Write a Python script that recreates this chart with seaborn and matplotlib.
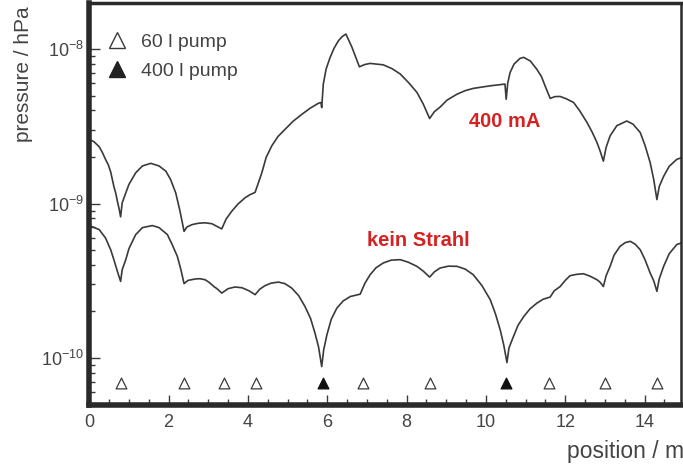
import numpy as np
import pandas as pd
import matplotlib
matplotlib.use("Agg")
import matplotlib.pyplot as plt
from matplotlib.lines import Line2D
from matplotlib.ticker import MultipleLocator, LogLocator, NullFormatter
import seaborn as sns

# ---- data ----
pos_400mA = [0.0, 0.12, 0.25, 0.33, 0.41, 0.48, 0.54, 0.62, 0.67, 0.71, 0.75, 0.79, 0.83, 0.92, 1.0, 1.17, 1.34,
             1.55, 1.76, 1.93, 2.05, 2.18, 2.28, 2.39, 2.46, 2.59, 2.75, 2.92, 3.09, 3.34, 3.45, 3.59, 3.75, 3.93,
             4.05, 4.18, 4.35, 4.46, 4.60, 4.76, 4.94, 5.14, 5.36, 5.57, 5.78, 5.84, 5.86, 5.90, 5.97, 6.07, 6.17,
             6.28, 6.37, 6.47, 6.62, 6.81, 6.94, 7.08, 7.41, 7.63, 7.84, 8.05, 8.26, 8.42, 8.58, 8.70, 8.84, 9.02,
             9.27, 9.48, 9.68, 10.11, 10.48, 10.51, 10.55, 10.61, 10.71, 10.86, 10.95, 11.12, 11.28, 11.40, 11.49,
             11.62, 11.74, 11.87, 12.02, 12.21, 12.37, 12.55, 12.68, 12.80, 12.88, 12.96, 13.03, 13.13, 13.30,
             13.55, 13.71, 13.89, 14.01, 14.14, 14.23, 14.31, 14.37, 14.48, 14.62, 14.81, 14.93]
p_400mA = [2.6e-9, 2.51e-9, 2.33e-9, 2.14e-9, 1.93e-9, 1.78e-9, 1.6e-9, 1.29e-9, 1.16e-9, 1.03e-9, 9.3e-10, 8.2e-10,
           1.01e-9, 1.17e-9, 1.33e-9, 1.58e-9, 1.75e-9,
           1.82e-9, 1.75e-9, 1.62e-9, 1.43e-9, 1.17e-9, 9.1e-10, 6.6e-10, 7.04e-10, 7.3e-10, 7.45e-10, 7.5e-10,
           7.4e-10, 6.85e-10, 7.93e-10, 8.9e-10, 9.93e-10, 1.09e-9,
           1.14e-9, 1.18e-9, 1.58e-9, 1.99e-9, 2.36e-9, 2.72e-9, 3.03e-9, 3.41e-9, 3.78e-9, 4.14e-9, 4.46e-9,
           4.5e-9, 4.18e-9, 5.93e-9, 7.41e-9, 8.8e-9, 1.01e-8,
           1.13e-8, 1.2e-8, 1.25e-8, 1.03e-8, 7.67e-9, 7.93e-9, 8.07e-9, 7.9e-9, 7.47e-9, 6.89e-9, 6.06e-9,
           5.24e-9, 4.4e-9, 3.55e-9, 3.93e-9, 4.2e-9, 4.67e-9,
           5.1e-9, 5.38e-9, 5.56e-9, 5.78e-9, 5.93e-9, 4.73e-9, 6.02e-9, 7.06e-9, 8.0e-9, 8.7e-9, 8.83e-9,
           8.36e-9, 7.41e-9, 6.63e-9, 5.78e-9,
           4.79e-9, 4.92e-9, 4.93e-9, 4.77e-9, 4.51e-9, 3.96e-9, 3.34e-9, 2.89e-9, 2.48e-9, 2.18e-9, 1.88e-9,
           2.31e-9, 2.74e-9, 3.19e-9,
           3.42e-9, 3.26e-9, 2.88e-9, 2.38e-9, 1.84e-9, 1.43e-9, 1.06e-9, 1.29e-9, 1.5e-9, 1.74e-9, 1.93e-9,
           1.98e-9]

pos_0mA = [0.0, 0.25, 0.41, 0.54, 0.62, 0.71, 0.79, 0.83, 0.92, 1.0, 1.17, 1.34, 1.59, 1.76, 1.97, 2.09, 2.22,
           2.31, 2.39, 2.49, 2.68, 2.79, 2.92, 3.02, 3.15, 3.22, 3.34, 3.50, 3.67, 3.85, 4.03, 4.18, 4.30, 4.43,
           4.58, 4.77, 4.93, 5.10, 5.28, 5.44, 5.58, 5.69, 5.78, 5.86, 5.91, 5.99, 6.10, 6.24, 6.40, 6.58, 6.83,
           6.95, 7.08, 7.23, 7.41, 7.61, 7.84, 8.04, 8.26, 8.42, 8.58, 8.70, 8.84, 9.05, 9.27, 9.48, 9.68, 9.90,
           10.11, 10.24, 10.36, 10.45, 10.53, 10.58, 10.69, 10.81, 10.95, 11.11, 11.28, 11.44, 11.62, 11.72,
           11.87, 12.00, 12.12, 12.29, 12.46, 12.63, 12.80, 12.88, 12.96, 13.03, 13.13, 13.23, 13.38, 13.51,
           13.64, 13.76, 13.89, 14.01, 14.14, 14.23, 14.31, 14.37, 14.48, 14.62, 14.81, 14.93]
p_0mA = [7.2e-10, 6.78e-10, 5.98e-10, 5.02e-10, 4.33e-10, 3.63e-10, 3.13e-10, 3.73e-10, 4.33e-10, 5.1e-10,
         6.29e-10, 6.98e-10, 7.2e-10, 6.98e-10, 6.29e-10, 5.42e-10, 4.55e-10,
         3.73e-10, 3.03e-10, 3.18e-10, 3.25e-10, 3.26e-10, 3.21e-10, 3.09e-10, 2.89e-10, 2.81e-10, 2.63e-10,
         2.81e-10, 2.88e-10, 2.85e-10, 2.72e-10, 2.57e-10, 2.79e-10, 2.94e-10,
         3.05e-10, 3.1e-10, 3.03e-10, 2.84e-10, 2.53e-10, 2.15e-10, 1.80e-10, 1.45e-10, 1.18e-10, 8.8e-11,
         1.13e-10, 1.41e-10, 1.78e-10, 2.1e-10, 2.34e-10, 2.5e-10, 2.59e-10,
         3.05e-10, 3.46e-10, 3.84e-10, 4.12e-10, 4.3e-10, 4.33e-10, 4.17e-10, 3.92e-10, 3.65e-10, 3.34e-10,
         3.61e-10, 3.82e-10, 3.93e-10, 3.92e-10, 3.76e-10, 3.46e-10, 2.94e-10,
         2.38e-10, 1.93e-10, 1.52e-10, 1.21e-10, 9.35e-11, 1.16e-10, 1.37e-10, 1.63e-10, 1.85e-10, 2.08e-10,
         2.26e-10, 2.4e-10, 2.48e-10, 2.72e-10,
         2.9e-10, 3.18e-10, 3.41e-10, 3.48e-10, 3.51e-10, 3.38e-10, 3.21e-10, 3.09e-10, 2.9e-10, 3.41e-10,
         3.92e-10, 4.63e-10, 5.28e-10, 5.58e-10,
         5.69e-10, 5.46e-10, 5.02e-10, 4.33e-10, 3.55e-10, 3.16e-10, 2.7e-10, 3.26e-10, 3.92e-10, 4.73e-10,
         5.42e-10, 5.56e-10]

pump60_pos = [0.8, 2.4, 3.4, 4.2, 6.9, 8.6, 11.6, 13.0, 14.3]
pump400_pos = [5.88, 10.5]
pump_marker_level = 6.9e-11

x_ticks = [0, 2, 4, 6, 8, 10, 12, 14]
y_ticks = [1e-10, 1e-9, 1e-8]

# ---- style ----
sns.set_style("ticks")
plt.rcParams['font.family'] = ['Liberation Sans', 'DejaVu Sans']
plt.rcParams['mathtext.fontset'] = 'custom'
plt.rcParams['mathtext.rm'] = 'Liberation Sans'
plt.rcParams['mathtext.it'] = 'Liberation Sans'
plt.rcParams['mathtext.default'] = 'regular'

grey = '#3a3a3a'
txt = '#444444'
red = '#d62222'

fig = plt.figure(figsize=(6.83, 4.65), dpi=100)
ax = fig.add_axes([0.1307, 0.1301, 0.8671, 0.8645])
ax.set_yscale('log')

df_a = pd.DataFrame({'position': pos_400mA, 'pressure': p_400mA})
df_b = pd.DataFrame({'position': pos_0mA, 'pressure': p_0mA})
sns.lineplot(data=df_a, x='position', y='pressure', ax=ax, color=grey, lw=1.2,
             estimator=None, sort=False)
sns.lineplot(data=df_b, x='position', y='pressure', ax=ax, color=grey, lw=1.2,
             estimator=None, sort=False)

df_p60 = pd.DataFrame({'x': pump60_pos, 'y': [pump_marker_level] * len(pump60_pos)})
df_p400 = pd.DataFrame({'x': pump400_pos, 'y': [pump_marker_level] * len(pump400_pos)})
sns.scatterplot(data=df_p60, x='x', y='y', ax=ax, marker='^', s=60,
                facecolor='white', edgecolor=grey, linewidth=0.9, zorder=3)
sns.scatterplot(data=df_p400, x='x', y='y', ax=ax, marker='^', s=60,
                color='#111111', edgecolor='#111111', linewidth=0.9, zorder=3)

ax.set_xlim(0, 14.93)
ax.set_ylim(5e-11, 2e-8)
ax.set_xticks(x_ticks)
ax.set_xticklabels([str(t) for t in x_ticks])
ax.xaxis.set_minor_locator(MultipleLocator(0.5))
ax.set_yticks(y_ticks)
ax.set_yticklabels([r'$10^{-10}$', r'$10^{-9}$', r'$10^{-8}$'])
ax.yaxis.set_minor_locator(LogLocator(base=10, subs=np.arange(2, 10)))
ax.yaxis.set_minor_formatter(NullFormatter())

ax.tick_params(axis='x', which='major', direction='in', length=7, width=1.0, color=grey,
               labelsize=13, labelcolor=txt, pad=7, top=False)
ax.tick_params(axis='x', which='minor', direction='in', length=4, width=1.0, color=grey, top=False)
ax.tick_params(axis='y', which='major', direction='in', length=8, width=1.0, color=grey,
               labelsize=13, labelcolor=txt, pad=4, right=False)
ax.tick_params(axis='y', which='minor', direction='in', length=4, width=1.0, color=grey, right=False)

for side, lw in [('left', 4.0), ('bottom', 4.0), ('top', 2.5), ('right', 1.8)]:
    ax.spines[side].set_visible(True)
    ax.spines[side].set_linewidth(lw)
    ax.spines[side].set_color('#2a2a2a')

ax.set_xlabel('')
ax.set_ylabel('')
fig.text(0.034, 0.841, 'pressure / hPa', rotation=90, ha='center', va='center',
         fontsize=15, color=txt)
fig.text(0.830, 0.028, 'position / m', ha='left', va='center', fontsize=16.5, color=txt)

ax.text(10.48, 3.4e-9, '400 mA', color=red, fontsize=14.5, fontweight='bold',
        ha='center', va='center')
ax.text(8.29, 5.8e-10, 'kein Strahl', color=red, fontsize=14.5, fontweight='bold',
        ha='center', va='center')

handles = [Line2D([], [], marker='^', ls='none', markersize=11, markerfacecolor='white',
                  markeredgecolor=grey, markeredgewidth=1.0),
           Line2D([], [], marker='^', ls='none', markersize=11, markerfacecolor='#222222',
                  markeredgecolor='#222222')]
ax.legend(handles, ['60 l pump', '400 l pump'], loc='upper left', frameon=False,
          bbox_to_anchor=(0.008, 0.953), fontsize=14, labelcolor=txt,
          handletextpad=0.6, labelspacing=0.6, handlelength=1.2, borderaxespad=0.2)

fig.savefig('out.png', dpi=100)
